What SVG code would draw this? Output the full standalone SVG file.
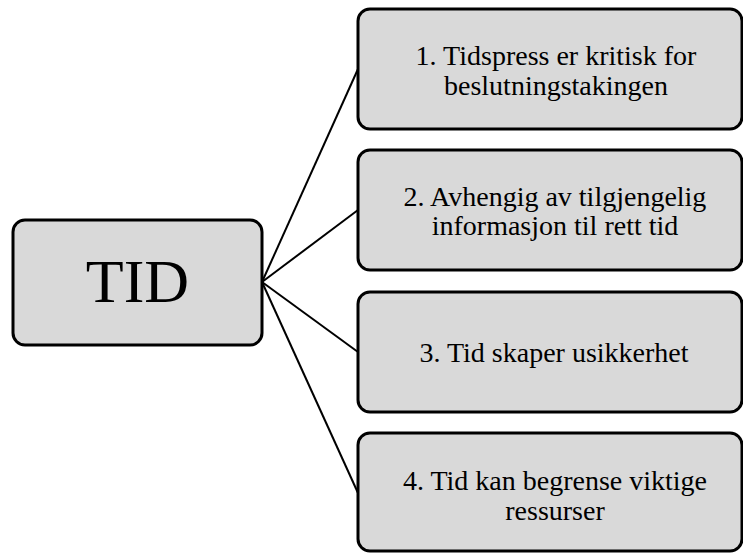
<svg xmlns="http://www.w3.org/2000/svg" width="743" height="553" viewBox="0 0 743 553">
<style>
.box{fill:#d9d9d9;stroke:#000;stroke-width:3}
.conn{stroke:#000;stroke-width:2;fill:none}
.t{font-family:"Liberation Serif","Times New Roman",serif;font-size:28px;fill:#000;text-anchor:middle}
.big{font-family:"Liberation Serif","Times New Roman",serif;font-size:62px;fill:#000;text-anchor:middle}
</style>
<rect width="743" height="553" fill="#fff"/>
<g id="connectors">
<line class="conn" x1="262" y1="282" x2="358" y2="69"/>
<line class="conn" x1="262" y1="282" x2="358" y2="210"/>
<line class="conn" x1="262" y1="282" x2="358" y2="352"/>
<line class="conn" x1="262" y1="282" x2="358" y2="493"/>
</g>
<g id="tid">
<rect class="box" x="13" y="220" width="249" height="125" rx="12"/>
<text class="big" x="137.5" y="302">TID</text>
</g>
<g id="n1">
<rect class="box" x="358" y="9" width="384" height="120" rx="12"/>
<text class="t" x="556" y="65">1. Tidspress er kritisk for</text>
<text class="t" x="556" y="95">beslutningstakingen</text>
</g>
<g id="n2">
<rect class="box" x="358" y="150" width="384" height="120" rx="12"/>
<text class="t" x="555" y="206">2. Avhengig av tilgjengelig</text>
<text class="t" x="555" y="235">informasjon til rett tid</text>
</g>
<g id="n3">
<rect class="box" x="358" y="292" width="384" height="120" rx="12"/>
<text class="t" x="554" y="362">3. Tid skaper usikkerhet</text>
</g>
<g id="n4">
<rect class="box" x="358" y="433" width="384" height="118" rx="12"/>
<text class="t" x="555" y="490">4. Tid kan begrense viktige</text>
<text class="t" x="555" y="520">ressurser</text>
</g>
</svg>
